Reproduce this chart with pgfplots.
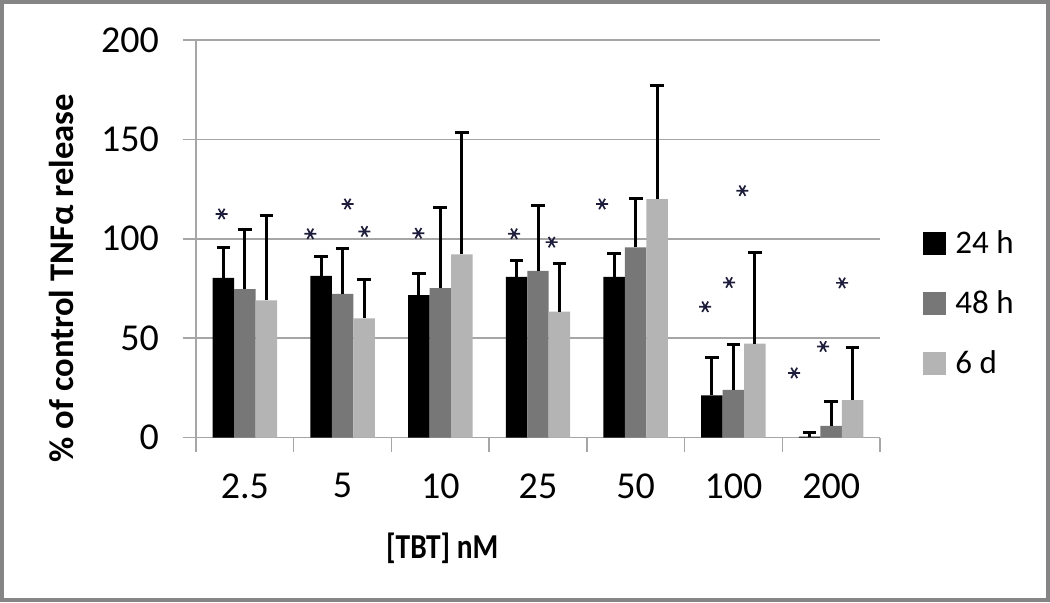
\documentclass[border=0pt]{standalone}
\usepackage{fontspec}
\setmainfont{Carlito}
\newfontfamily\xlabfont{Carlito}[FakeStretch=0.84]
\usepackage{pgfplots}
\pgfplotsset{compat=1.18}

\definecolor{bar48}{HTML}{777777}
\definecolor{bar6d}{HTML}{B4B4B4}
\definecolor{gridc}{HTML}{A6A6A6}
\definecolor{framec}{HTML}{858585}
\definecolor{starc}{HTML}{1E1E3C}

% bars sit at category +- 0.22, so bar shift stays 0 and error bars line up
\pgfplotsset{
  sqlegend/.style={legend image code/.code={\fill[##1] (0pt,-5.75pt) rectangle (11.5pt,5.75pt);}},
  tnfbar/.style={ybar, bar width=0.22, bar shift=0pt, draw=none, sqlegend,
    error bars/y dir=plus, error bars/y explicit,
    error bars/error mark=|,
    error bars/error bar style={draw=black, line width=1.5pt},
    error bars/error mark options={draw=black, line width=1.5pt, mark size=3.4pt}},
}

\begin{document}
\begin{tikzpicture}
\begin{axis}[
  at={(0,0)}, anchor=south west,
  scale only axis, width=342pt, height=198.75pt,
  xmin=-0.5, xmax=6.5, ymin=0, ymax=200,
  axis x line*=bottom, axis y line*=left,
  axis line style={gridc, line width=0.75pt},
  xtick={0,...,6}, xticklabels={2.5,5,10,25,50,100,200},
  major x tick style={draw=none},
  minor xtick={-0.5,0.5,...,6.5},
  ytick={0,50,...,200},
  tick align=outside,
  tick style={gridc, line width=0.75pt},
  major tick length=6.5pt, minor tick length=7pt,
  ymajorgrids, grid style={gridc, line width=0.75pt},
  /pgf/number format/assume math mode=true,
  tick label style={font=\fontsize{19}{22}\selectfont, black},
  xticklabel style={yshift=-8pt},
  yticklabel style={xshift=-8.5pt},
  xlabel={[TBT] nM},
  xlabel style={at={(axis description cs:0.36,-0.278)}, anchor=center,
    font=\xlabfont\bfseries\fontsize{17.5}{21}\selectfont},
  ylabel={\% of control TNFα release},
  ylabel style={at={(axis description cs:-0.196,0.401)}, anchor=center,
    font=\bfseries\fontsize{17.3}{20}\selectfont},
  legend style={draw=none, fill=none, at={(axis description cs:1.063,0.338)},
    anchor=west, inner sep=0pt, column sep=4.5pt, row sep=0pt,
    nodes={inner sep=0pt, minimum height=30pt},
    font=\fontsize{16.5}{20}\selectfont},
  legend cell align=left,
]

% 24 h
\addplot[tnfbar, fill=black] coordinates {
  (-0.22,80.3) +- (0,15.5)
  (0.78,81.3)  +- (0,10.0)
  (1.78,71.7)  +- (0,11.0)
  (2.78,80.8)  +- (0,8.4)
  (3.78,80.8)  +- (0,11.7)
  (4.78,21.2)  +- (0,19.3)
  (5.78,0.5)   +- (0,2.0)
};
\addlegendentry{24 h}

% 48 h
\addplot[tnfbar, fill=bar48] coordinates {
  (0,74.7) +- (0,29.8)
  (1,72.3) +- (0,23.0)
  (2,75.2) +- (0,40.6)
  (3,83.8) +- (0,32.7)
  (4,95.7) +- (0,24.6)
  (5,24.0) +- (0,23.0)
  (6,5.8)  +- (0,12.2)
};
\addlegendentry{48 h}

% 6 d
\addplot[tnfbar, fill=bar6d] coordinates {
  (0.22,69.0)  +- (0,42.5)
  (1.22,60.0)  +- (0,19.3)
  (2.22,92.2)  +- (0,61.1)
  (3.22,63.3)  +- (0,24.5)
  (4.22,120.0) +- (0,57.3)
  (5.22,47.3)  +- (0,45.7)
  (6.22,18.8)  +- (0,26.4)
};
\addlegendentry{6 d}

% significance marks
\addplot[forget plot, only marks, mark=asterisk, mark size=3pt, starc,
  mark options={line width=0.85pt, rotate=90}] coordinates {
  (-0.238,112.5)
  (0.670,102.5) (1.051,117.5) (1.224,103.7)
  (1.776,102.8)
  (2.755,102.5) (3.140,98.3)
  (3.656,117.5)
  (4.711,65.8) (4.956,78.0) (5.092,124.2)
  (5.622,32.5) (5.918,45.8) (6.112,77.8)
};
\end{axis}
\draw[framec, line width=2pt] (-97pt,-81.25pt) rectangle (426pt,217.75pt);
\pgfresetboundingbox
\useasboundingbox (-98pt,-82.25pt) rectangle (427pt,218.75pt);
\end{tikzpicture}
\end{document}
